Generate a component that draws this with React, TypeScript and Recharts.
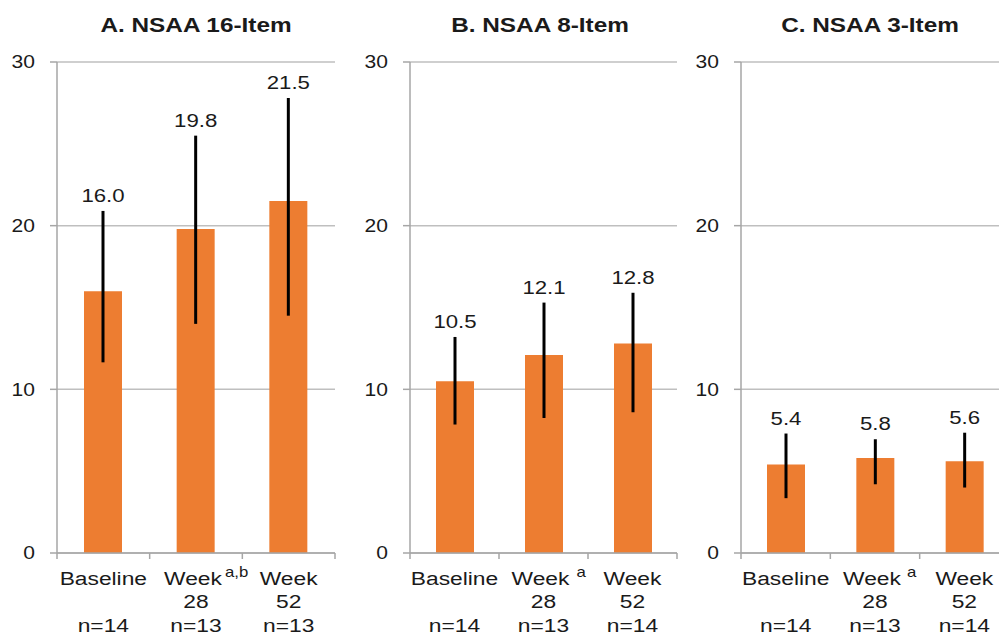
import React from 'react';
import { BarChart, Bar, XAxis, YAxis, CartesianGrid, ErrorBar, LabelList } from 'recharts';

// shared category labels
const categories = ['Baseline', 'Week', 'Week'];
const secondLine = ['', '28', '52'];
const yTicks = [0, 10, 20, 30];

// A. NSAA 16-Item
const meanA = [16.0, 19.8, 21.5];
const errA = [[4.35, 4.9], [5.8, 5.7], [7.0, 6.3]];
const nA = [14, 13, 13];
const supA = ['', 'a,b', ''];

// B. NSAA 8-Item
const meanB = [10.5, 12.1, 12.8];
const errB = [[2.65, 2.7], [3.85, 3.2], [4.2, 3.1]];
const nB = [14, 13, 14];
const supB = ['', 'a', ''];

// C. NSAA 3-Item
const meanC = [5.4, 5.8, 5.6];
const errC = [[2.05, 1.9], [1.6, 1.15], [1.6, 1.75]];
const nC = [14, 13, 14];
const supC = ['', 'a', ''];

const ORANGE = '#ED7D31';
const AXIS = '#a6a6a6';
const GRID = '#bfbfbf';
const TEXT = '#1a1a1a';
const FONT = '"Liberation Sans", Arial, sans-serif';
const SX = 1.17; // source text is slightly widened

const YTick = (props: any) => {
  const { x, y, payload } = props;
  return (
    <g transform={`translate(${x},${y}) scale(${SX},1)`}>
      <text x={0} y={0} dy="0.36em" textAnchor="end" fontSize={18} fill={TEXT} fontFamily={FONT}>
        {payload.value}
      </text>
    </g>
  );
};

const XTick = (props: any) => {
  const { x, y, payload, sup, n, supGap } = props;
  const i = payload.index ?? Number(payload.value);
  const half = payload.offset || 45;
  // with a spaced superscript the word sits a little left of centre
  const shift = sup[i] && supGap > 0 ? -3 : 0;
  return (
    <g>
      <line x1={x + half} x2={x + half} y1={y} y2={y + 6} stroke={AXIS} strokeWidth={1.5} />
      {i === 0 && <line x1={x - half} x2={x - half} y1={y} y2={y + 6} stroke={AXIS} strokeWidth={1.5} />}
      <g transform={`translate(${x + shift},${y + 32}) scale(1.2,1)`}>
        <text textAnchor="middle" fontSize={19} fill={TEXT} fontFamily={FONT}>{categories[i]}</text>
      </g>
      {sup[i] && (
        <g transform={`translate(${x + shift + 30 + supGap},${y + 24}) scale(1.2,1)`}>
          <text textAnchor="start" fontSize={14} fill={TEXT} fontFamily={FONT}>{sup[i]}</text>
        </g>
      )}
      {secondLine[i] && (
        <g transform={`translate(${x},${y + 55}) scale(1.2,1)`}>
          <text textAnchor="middle" fontSize={19} fill={TEXT} fontFamily={FONT}>{secondLine[i]}</text>
        </g>
      )}
      <g transform={`translate(${x},${y + 79}) scale(1.2,1)`}>
        <text textAnchor="middle" fontSize={19} fill={TEXT} fontFamily={FONT}>{`n=${n[i]}`}</text>
      </g>
    </g>
  );
};

interface PanelProps {
  mean: number[];
  err: number[][];
  n: number[];
  sup: string[];
  supGap: number;
  left: number;
  width: number;
  axisWidth: number;
  rightMargin: number;
}

function Panel({ mean, err, n, sup, supGap, left, width, axisWidth, rightMargin }: PanelProps) {
  const rows = mean.map((m, i) => ({ slot: i, mean: m, err: err[i] }));

  const valueLabel = (p: any) => {
    const { x, y, width: w, height: h, value, index } = p;
    const perUnit = Number(h) / Number(value);
    const top = Number(y) - err[index][1] * perUnit;
    return (
      <g transform={`translate(${Number(x) + Number(w) / 2},${top - 9}) scale(${SX},1)`}>
        <text textAnchor="middle" fontSize={19} fill={TEXT} fontFamily={FONT}>
          {Number(value).toFixed(1)}
        </text>
      </g>
    );
  };

  return (
    <div style={{ position: 'absolute', left, top: 0 }}>
      <BarChart
        width={width}
        height={637}
        data={rows}
        margin={{ top: 62, right: rightMargin, left: 0, bottom: 0 }}
      >
        <CartesianGrid vertical={false} stroke={GRID} strokeWidth={1.5} />
        <XAxis
          dataKey="slot"
          type="category"
          interval={0}
          height={84}
          tickSize={0}
          tickMargin={0}
          tickLine={false}
          axisLine={{ stroke: AXIS, strokeWidth: 1.5 }}
          tick={(p: any) => <XTick {...p} sup={sup} n={n} supGap={supGap} />}
        />
        <YAxis
          type="number"
          domain={[0, 30]}
          ticks={yTicks}
          interval={0}
          width={axisWidth}
          tickSize={7}
          tickMargin={15}
          tickLine={{ stroke: AXIS, strokeWidth: 1.5 }}
          axisLine={{ stroke: AXIS, strokeWidth: 1.5 }}
          tick={YTick}
        />
        <Bar dataKey="mean" fill={ORANGE} barSize={38} isAnimationActive={false}>
          <ErrorBar dataKey="err" width={0} strokeWidth={3} stroke="#000" direction="y" isAnimationActive={false} />
          <LabelList dataKey="mean" content={valueLabel} />
        </Bar>
      </BarChart>
    </div>
  );
}

const titles = ['A. NSAA 16-Item', 'B. NSAA 8-Item', 'C. NSAA 3-Item'];
const titleX = [196, 540, 870];

export default function App() {
  return (
    <div
      style={{
        position: 'absolute',
        left: 0,
        top: 0,
        width: 999,
        height: 637,
        overflow: 'hidden',
        background: '#fff',
        fontFamily: FONT,
      }}
    >
      <Panel mean={meanA} err={errA} n={nA} sup={supA} supGap={2} left={0} width={345} axisWidth={57} rightMargin={10} />
      <Panel mean={meanB} err={errB} n={nB} sup={supB} supGap={6} left={345} width={342} axisWidth={65} rightMargin={10} />
      <Panel mean={meanC} err={errC} n={nC} sup={supC} supGap={5} left={687} width={322} axisWidth={54} rightMargin={0} />
      <svg width={999} height={637} style={{ position: 'absolute', left: 0, top: 0, pointerEvents: 'none' }}>
        {titles.map((t, i) => (
          <g key={t} transform={`translate(${titleX[i]},32) scale(1.16,1)`}>
            <text textAnchor="middle" fontSize={21} fontWeight="bold" fill={TEXT} fontFamily={FONT}>
              {t}
            </text>
          </g>
        ))}
      </svg>
    </div>
  );
}
